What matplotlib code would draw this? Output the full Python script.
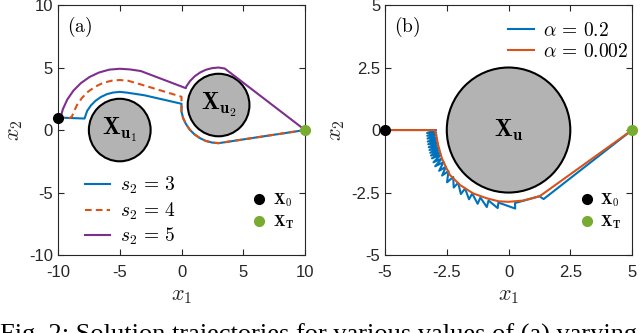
import numpy as np
import matplotlib
matplotlib.use('Agg')
import matplotlib.pyplot as plt
from matplotlib.patches import Circle

plt.rcParams['mathtext.fontset'] = 'cm'
plt.rcParams['font.family'] = 'Liberation Sans'

# ── Couleurs (MATLAB) ────────────────────────────────────────────────────────
C_BLUE   = '#0072BD'
C_ORANGE = '#D95319'
C_PURPLE = '#7E2F8E'
C_GREEN  = '#77AC30'
C_AX     = '#262626'

# ── Donnees panneau (a) ──────────────────────────────────────────────────────
obs_a_x = [-5.0, 3.0]
obs_a_y = [0.0, 2.0]
obs_a_r = [2.5, 2.5]
obs_a_lbl = [r'$\mathbf{X_{u_1}}$', r'$\mathbf{X_{u_2}}$']

x0_a = [-10.0, 1.0]
xT_a = [10.0, 0.0]

s3_x = [-10.0, -7.85, -7.64, -7.34, -6.96, -6.53, -6.04, -5.53, -5.0, -4.47,
        -3.0, 0.0, 0.0, 0.13, 0.36, 0.66, 1.04, 1.48, 1.96, 2.47, 3.0, 10.0]
s3_y = [1.0, 0.92, 1.53, 1.96, 2.34, 2.64, 2.87, 3.0, 3.05, 3.0,
        2.78, 2.1, 1.47, 0.96, 0.48, 0.04, -0.34, -0.64, -0.87, -1.0, -1.05, 0.0]

s4_x = [-10.0, -9.05, -8.86, -8.76, -8.46, -8.06, -7.57, -7.0, -6.37, -5.69,
        -5.0, -4.31, -2.8, 0.0, 0.0, 0.0, 0.13, 0.36, 0.66, 1.04, 1.48, 1.96,
        2.47, 3.0, 10.0]
s4_y = [1.0, 0.95, 1.1, 1.37, 2.0, 2.57, 3.06, 3.46, 3.76, 3.94,
        4.0, 3.94, 3.5, 2.66, 2.0, 1.47, 0.96, 0.48, 0.04, -0.34, -0.64, -0.87,
        -1.0, -1.05, 0.0]

s5_x = [-10.0, -9.79, -9.6, -9.24, -8.75, -8.15, -7.45, -6.68, -5.85, -5.0,
        -4.2, -3.3, 0.35, 0.4, 0.7, 1.07, 1.5, 1.97, 2.48, 3.0, 3.5, 10.0]
s5_y = [1.0, 1.02, 1.68, 2.45, 3.15, 3.75, 4.24, 4.6, 4.83, 4.9,
        4.85, 4.72, 3.35, 3.5, 3.93, 4.3, 4.6, 4.82, 4.95, 5.0, 4.92, 0.0]

# ── Donnees panneau (b) ──────────────────────────────────────────────────────
obs_b = [0.0, 0.0, 2.5]
x0_b = [-5.0, 0.0]
xT_b = [5.0, 0.0]

a02_x = [-5.0, -3.3, -2.93, -3.3, -2.93, -3.29, -2.92, -3.28, -2.91, -3.27, -2.9,
         -3.25, -2.89, -3.23, -2.87, -3.2, -2.84, -3.17, -2.82, -3.14, -2.79,
         -3.1, -2.75, -3.04, -2.7, -2.97, -2.63, -2.81, -2.54, -2.69, -2.43,
         -2.49, -2.24, -2.22, -2.04, -1.93, -1.76, -1.6, -1.47, -1.25, -1.14,
         -0.88, -0.81, -0.44, -0.41, 0.27, 0.26, 1.25, 1.42, 5.0]
a02_y = [0.0, 0.0, 0.0, -0.12, -0.1, -0.23, -0.2, -0.34, -0.31, -0.46, -0.41,
         -0.57, -0.51, -0.69, -0.61, -0.8, -0.71, -0.91, -0.81, -1.02, -0.91,
         -1.13, -1.0, -1.29, -1.14, -1.45, -1.28, -1.63, -1.47, -1.82, -1.64,
         -2.09, -1.88, -2.3, -2.11, -2.56, -2.34, -2.77, -2.54, -2.95, -2.7,
         -3.08, -2.82, -3.12, -2.9, -3.14, -2.92, -2.65, -2.76, 0.0]

a0002_x = [-5.0, -2.98, -2.93, -2.85, -2.7, -2.5, -2.37, -1.96, -1.44, -0.88,
           -0.4, 0.0, 0.6, 1.27, 5.0]
a0002_y = [0.0, 0.0, -0.2, -0.6, -1.13, -1.55, -1.8, -2.2, -2.53, -2.73,
           -2.85, -2.87, -2.82, -2.64, 0.0]

ticks_a = [-10, -5, 0, 5, 10]
ticks_b = [-5, -2.5, 0, 2.5, 5]
ticklbl_a = ['-10', '-5', '0', '5', '10']
ticklbl_b = ['-5', '-2.5', '0', '2.5', '5']

# ── Figure ───────────────────────────────────────────────────────────────────
fig = plt.figure(figsize=(6.4, 3.33), dpi=100)
ax_a = fig.add_axes([0.0906, 0.234, 0.386, 0.751])
ax_b = fig.add_axes([0.6016, 0.234, 0.386, 0.751])


def style_axes(ax, ticks, labels):
    ax.set_xticks(ticks); ax.set_xticklabels(labels)
    ax.set_yticks(ticks); ax.set_yticklabels(labels)
    ax.set_xlim(ticks[0], ticks[-1]); ax.set_ylim(ticks[0], ticks[-1])
    ax.tick_params(direction='in', top=True, right=True, length=4,
                   width=0.8, color=C_AX, labelcolor=C_AX, labelsize=12)
    ax.tick_params(axis='x', pad=7)
    for s in ax.spines.values():
        s.set_color(C_AX); s.set_linewidth(0.8)
    ax.set_xlabel(r'$x_1$', fontsize=16, color=C_AX, labelpad=4)
    ax.set_ylabel(r'$x_2$', fontsize=16, color=C_AX, labelpad=3)


# Panneau (a)
for cx, cy, r, lbl in zip(obs_a_x, obs_a_y, obs_a_r, obs_a_lbl):
    ax_a.add_patch(Circle((cx, cy), r, facecolor='#b3b3b3', edgecolor='black',
                          linewidth=1.5, zorder=2))
    ax_a.text(cx, cy, lbl, fontsize=17, ha='center', va='center', zorder=3)

l3, = ax_a.plot(s3_x, s3_y, color=C_BLUE, lw=1.5, zorder=4, label=r'$s_2 \,=\, 3$')
l4, = ax_a.plot(s4_x, s4_y, color=C_ORANGE, lw=1.5, dashes=(3.2, 2), zorder=5,
                label=r'$s_2 \,=\, 4$')
l5, = ax_a.plot(s5_x, s5_y, color=C_PURPLE, lw=1.5, zorder=5, label=r'$s_2 \,=\, 5$')
m0a, = ax_a.plot(*x0_a, 'o', color='black', ms=7, zorder=6, clip_on=False,
                 label=r'$\mathbf{X_0}$')
mTa, = ax_a.plot(*xT_a, 'o', color=C_GREEN, ms=7, zorder=6, clip_on=False,
                 label=r'$\mathbf{X_T}$')
ax_a.text(0.035, 0.96, r'$\mathrm{(a)}$', transform=ax_a.transAxes,
          fontsize=14, ha='left', va='top')

leg1 = ax_a.legend(handles=[l3, l4, l5], loc='upper left', bbox_to_anchor=(0.07, 0.36),
                   frameon=False, fontsize=14, handlelength=1.3, handletextpad=0.5,
                   labelspacing=0.22, borderpad=0)
ax_a.add_artist(leg1)
ax_a.legend(handles=[m0a, mTa], loc='upper left', bbox_to_anchor=(0.76, 0.285),
            frameon=False, fontsize=11, handlelength=0.8, handletextpad=0.5,
            labelspacing=0.3, borderpad=0)
style_axes(ax_a, ticks_a, ticklbl_a)

# Panneau (b)
ax_b.add_patch(Circle((obs_b[0], obs_b[1]), obs_b[2], facecolor='#b3b3b3',
                      edgecolor='black', linewidth=1.5, zorder=2))
ax_b.text(obs_b[0], obs_b[1], r'$\mathbf{X_u}$', fontsize=17, ha='center',
          va='center', zorder=3)
lb1, = ax_b.plot(a02_x, a02_y, color=C_BLUE, lw=1.5, zorder=4,
                 label=r'$\alpha \,=\, 0.2$')
lb2, = ax_b.plot(a0002_x, a0002_y, color=C_ORANGE, lw=1.5, zorder=5,
                 label=r'$\alpha \,=\, 0.002$')
m0b, = ax_b.plot(*x0_b, 'o', color='black', ms=7, zorder=6, clip_on=False,
                 label=r'$\mathbf{X_0}$')
mTb, = ax_b.plot(*xT_b, 'o', color=C_GREEN, ms=7, zorder=6, clip_on=False,
                 label=r'$\mathbf{X_T}$')
ax_b.text(0.035, 0.96, r'$\mathrm{(b)}$', transform=ax_b.transAxes,
          fontsize=14, ha='left', va='top')

leg2 = ax_b.legend(handles=[lb1, lb2], loc='upper left', bbox_to_anchor=(0.46, 0.97),
                   frameon=False, fontsize=14, handlelength=1.3, handletextpad=0.5,
                   labelspacing=0.15, borderpad=0)
ax_b.add_artist(leg2)
ax_b.legend(handles=[m0b, mTb], loc='upper left', bbox_to_anchor=(0.76, 0.285),
            frameon=False, fontsize=11, handlelength=0.8, handletextpad=0.5,
            labelspacing=0.3, borderpad=0)
style_axes(ax_b, ticks_b, ticklbl_b)

fig.text(0.0, 1 - 324 / 333, 'Fig. 2: Solution trajectories for various values of (a) varying',
         fontsize=19, family='Liberation Serif', ha='left', va='top')

fig.savefig('out.png', dpi=100)
